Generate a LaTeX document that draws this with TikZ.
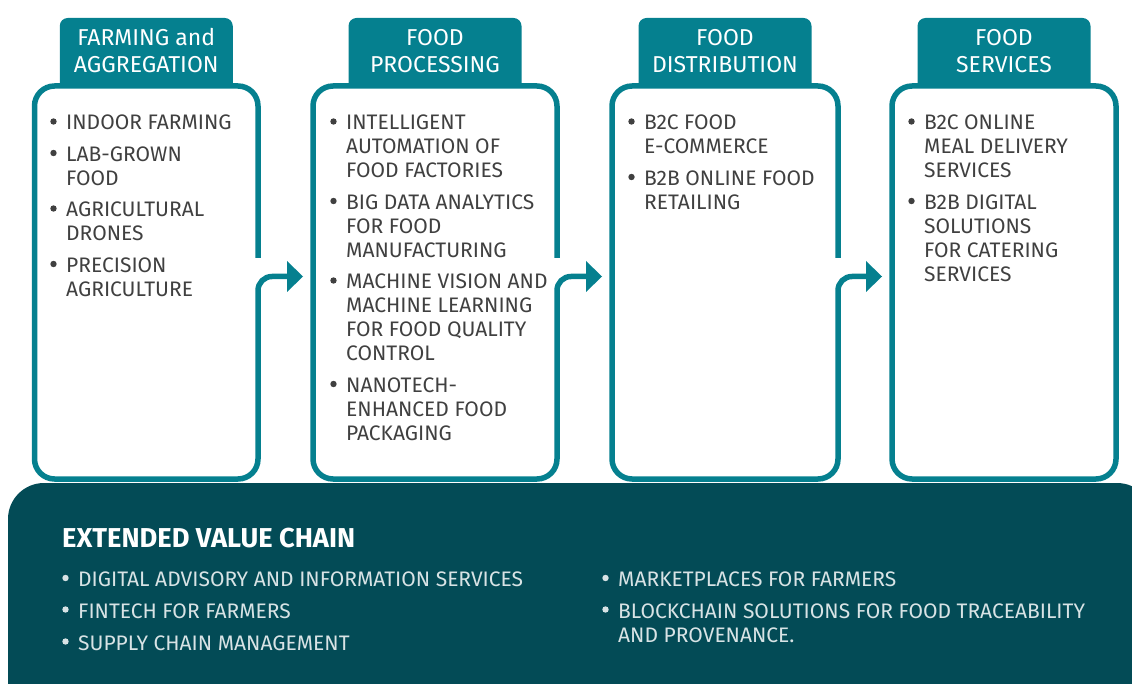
\documentclass[tikz,border=0pt]{standalone}
\usepackage{fontspec}
\setmainfont{Fira Sans}
\definecolor{tealc}{HTML}{05808F}
\definecolor{darkc}{HTML}{034B56}
\definecolor{txtc}{HTML}{404040}
\definecolor{ltxt}{HTML}{D8E3E5}
\newcommand\ml[1]{\begin{tabular}[t]{@{}l@{}}#1\end{tabular}}
\newcommand\mc[1]{\begin{tabular}[t]{@{}c@{}}#1\end{tabular}}
\tikzset{
  boxarea/.style={draw=none, minimum width=#1, minimum height=393pt, inner sep=0pt, outer sep=0pt},
  boxfill/.style={fill=white, rounded corners=20pt},
  outline/.style={draw=tealc, line width=5.5pt, rounded corners=20pt},
  tabshape/.style={fill=tealc, rounded corners=8pt, minimum width=173pt, minimum height=82pt, inner sep=0pt},
  tabtext/.style={text=white, font=\fontsize{23}{26.5}\selectfont, anchor=base, inner sep=0pt},
  itemtext/.style={text=txtc, font=\fontsize{21}{24}\selectfont, anchor=base west, inner sep=0pt},
  headtext/.style={text=white, font=\fontsize{27.3}{30}\selectfont\bfseries, anchor=base west, inner sep=0pt},
  head/.style={fill=tealc},
}
\newcommand\bitem[5]{%
  \fill[#4] (#2-12.5,#3-8.5) circle (3.2pt);
  \node[itemtext, text=#4] (#1) at (#2,#3) {\ml{#5}};
}
\begin{document}
\begin{tikzpicture}[x=1pt,y=-1pt]
\path[use as bounding box] (0,0) rectangle (1132,684);

% tabs
\node[tabshape] (t1) at (146.25,59) {};
\node[tabshape] (t2) at (435,59) {};
\node[tabshape] (t3) at (725,59) {};
\node[tabshape] (t4) at (1004,59) {};
\node[tabtext] (tt1) at (146.25,46) {\mc{FARMING and\\AGGREGATION}};
\node[tabtext] (tt2) at (435,46) {\mc{FOOD\\PROCESSING}};
\node[tabtext] (tt3) at (725,46) {\mc{FOOD\\DISTRIBUTION}};
\node[tabtext] (tt4) at (1004,46) {\mc{FOOD\\SERVICES}};

% box areas
\node[boxarea=223.5pt] (b1) at (146.25,282.5) {};
\node[boxarea=244pt] (b2) at (435,282.5) {};
\node[boxarea=226pt] (b3) at (725,282.5) {};
\node[boxarea=224pt] (b4) at (1004,282.5) {};

\foreach \b in {b1,b2,b3,b4}{
  \fill[boxfill] (\b.north west) rectangle (\b.south east);
}

% gap and arrow coordinates
\coordinate (g) at (0,258);
\coordinate (r) at (0,276.5);
\coordinate (h1) at (287,276.5);
\coordinate (h2) at (586,276.5);
\coordinate (h3) at (866,276.5);

\draw[outline] (b1.east |- g) -- (b1.north east) -- (b1.north west) -- (b1.south west) -- (b1.south east) [rounded corners=14pt] -- (b1.east |- r) -- (h1);
\draw[outline] (b2.east |- g) -- (b2.north east) -- (b2.north west) -- (b2.south west) -- (b2.south east) [rounded corners=14pt] -- (b2.east |- r) -- (h2);
\draw[outline] (b3.east |- g) -- (b3.north east) -- (b3.north west) -- (b3.south west) -- (b3.south east) [rounded corners=14pt] -- (b3.east |- r) -- (h3);
\draw[outline] (b4.north west) rectangle (b4.south east);

\fill[head] (h1) ++(0,-15.5) -- ++(16,15.5) -- ++(-16,15.5) -- cycle;
\fill[head] (h2) ++(0,-15.5) -- ++(16,15.5) -- ++(-16,15.5) -- cycle;
\fill[head] (h3) ++(0,-15.5) -- ++(16,15.5) -- ++(-16,15.5) -- cycle;

% box 1
\bitem{i11}{66}{130}{txtc}{INDOOR FARMING}
\bitem{i12}{66}{161.5}{txtc}{LAB-GROWN\\FOOD}
\bitem{i13}{66}{217}{txtc}{AGRICULTURAL\\DRONES}
\bitem{i14}{66}{272.5}{txtc}{PRECISION\\AGRICULTURE}
% box 2
\bitem{i21}{346}{130}{txtc}{INTELLIGENT\\AUTOMATION OF\\FOOD FACTORIES}
\bitem{i22}{346}{209.5}{txtc}{BIG DATA ANALYTICS\\FOR FOOD\\MANUFACTURING}
\bitem{i23}{346}{289}{txtc}{MACHINE VISION AND\\MACHINE LEARNING\\FOR FOOD QUALITY\\CONTROL}
\bitem{i24}{346}{392.5}{txtc}{NANOTECH-\\ENHANCED FOOD\\PACKAGING}
% box 3
\bitem{i31}{644}{130}{txtc}{B2C FOOD\\E-COMMERCE}
\bitem{i32}{644}{185.5}{txtc}{B2B ONLINE FOOD\\RETAILING}
% box 4
\bitem{i41}{924}{130}{txtc}{B2C ONLINE\\MEAL DELIVERY\\SERVICES}
\bitem{i42}{924}{209.5}{txtc}{B2B DIGITAL\\SOLUTIONS\\FOR CATERING\\SERVICES}

% bottom panel
\begin{scope}
\clip (0,0) rectangle (1132,684);
\fill[darkc, rounded corners=36pt] (8,483) rectangle (1153,730);
\end{scope}
\node[headtext] (ev) at (62,547) {EXTENDED VALUE CHAIN};
\bitem{e1}{78}{586.5}{ltxt}{DIGITAL ADVISORY AND INFORMATION SERVICES}
\bitem{e2}{78}{618}{ltxt}{FINTECH FOR FARMERS}
\bitem{e3}{78}{650}{ltxt}{SUPPLY CHAIN MANAGEMENT}
\bitem{e4}{618}{586.5}{ltxt}{MARKETPLACES FOR FARMERS}
\bitem{e5}{618}{618}{ltxt}{BLOCKCHAIN SOLUTIONS FOR FOOD TRACEABILITY\\AND PROVENANCE.}
\end{tikzpicture}
\end{document}
